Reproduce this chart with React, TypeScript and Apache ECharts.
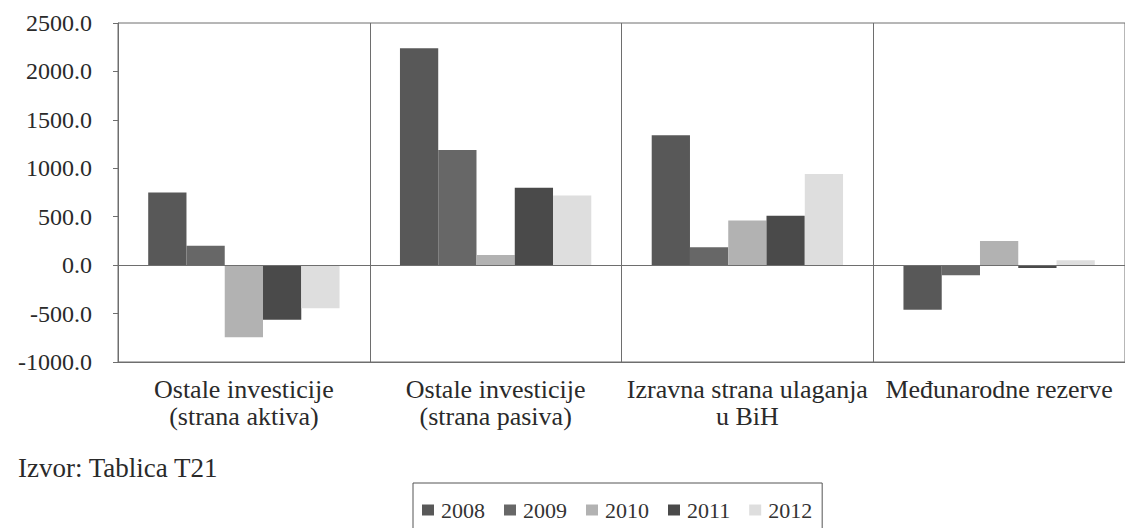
import React, { useEffect, useRef } from "react";
import * as echarts from "echarts";

const categories = [
  "Ostale investicije\n(strana aktiva)",
  "Ostale investicije\n(strana pasiva)",
  "Izravna strana ulaganja\nu BiH",
  "Međunarodne rezerve",
];
const years = ["2008", "2009", "2010", "2011", "2012"];
const v2008 = [750, 2240, 1340, -460];
const v2009 = [200, 1190, 185, -105];
const v2010 = [-745, 105, 460, 250];
const v2011 = [-565, 800, 510, -30];
const v2012 = [-445, 720, 940, 50];
const seriesValues = [v2008, v2009, v2010, v2011, v2012];
const colors = ["#585858", "#676767", "#b2b2b2", "#4a4a4a", "#dedede"];
const yMin = -1000;
const yMax = 2500;
const yInterval = 500;
const sourceText = "Izvor: Tablica T21";

const FONT = "Liberation Serif";

export default function App() {
  const ref = useRef<HTMLDivElement>(null);
  useEffect(() => {
    if (!ref.current) return;
    const chart = echarts.init(ref.current, null, { renderer: "svg" });
    const series: any[] = years.map((y, i) => ({
      name: y,
      type: "bar",
      data: seriesValues[i],
      barGap: "0%",
      barCategoryGap: "24%",
      itemStyle: { color: colors[i] },
      ...(i === 0
        ? {
            markLine: {
              silent: true,
              symbol: "none",
              label: { show: false },
              lineStyle: { color: "#6e6e6e", width: 1, type: "solid" },
              data: [{ yAxis: 0 }],
            },
          }
        : {}),
    }));
    chart.setOption({
      animation: false,
      backgroundColor: "#ffffff",
      textStyle: { fontFamily: FONT },
      grid: {
        left: 118,
        right: -5,
        top: 23,
        bottom: 166,
        show: true,
        borderColor: "#6e6e6e",
        borderWidth: 1,
      },
      legend: {
        data: years,
        left: 413,
        top: 483,
        width: 430,
        padding: [16, 10, 16, 9],
        borderColor: "#555",
        borderWidth: 1,
        itemWidth: 12,
        itemHeight: 11,
        itemGap: 19,
        icon: "rect",
        textStyle: { fontFamily: FONT, fontSize: 22, color: "#333", padding: [0, 0, 0, 2] },
      },
      xAxis: {
        type: "category",
        data: categories,
        axisLine: { onZero: false, lineStyle: { color: "#6e6e6e" } },
        axisTick: { show: false },
        splitLine: { show: true, lineStyle: { color: "#6e6e6e", width: 1 } },
        axisLabel: {
          interval: 0,
          margin: 14,
          fontFamily: FONT,
          fontSize: 26,
          lineHeight: 27,
          color: "#2a2a2a",
          align: "center",
        },
      },
      yAxis: {
        type: "value",
        min: yMin,
        max: yMax,
        interval: yInterval,
        axisLine: { show: true, lineStyle: { color: "#6e6e6e" } },
        axisTick: { show: true, length: 5, lineStyle: { color: "#6e6e6e" } },
        splitLine: { show: false },
        axisLabel: {
          margin: 26,
          fontFamily: FONT,
          fontSize: 24,
          color: "#2a2a2a",
          formatter: (v: number) => v.toFixed(1),
        },
      },
      graphic: [
        {
          type: "text",
          left: 18,
          top: 454,
          style: { text: sourceText, fontFamily: FONT, fontSize: 27, fill: "#2a2a2a" },
        },
      ],
      series,
    });
    return () => chart.dispose();
  }, []);
  return (
    <div
      ref={ref}
      style={{ position: "fixed", left: 0, top: 0, width: 1125, height: 528 }}
    />
  );
}
